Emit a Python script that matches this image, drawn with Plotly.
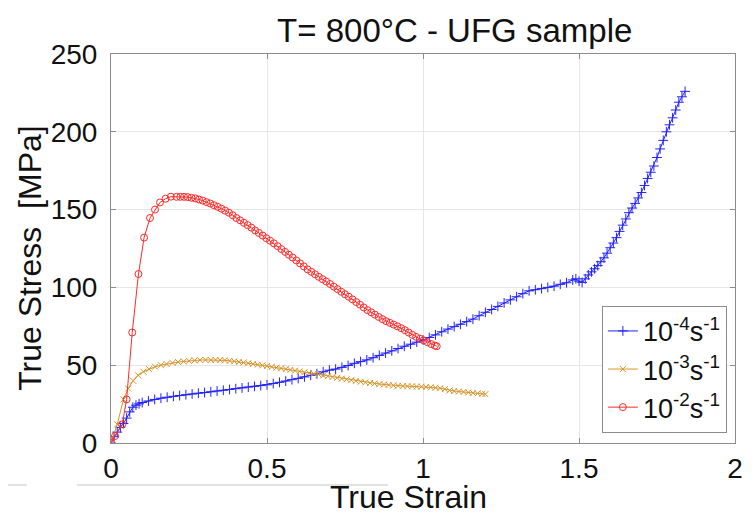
import plotly.graph_objects as go

# ---- data ----
strain_e4 = [0, 0.01, 0.02, 0.03, 0.04, 0.05, 0.06, 0.07, 0.08, 0.09, 0.1, 0.12, 0.14, 0.16, 0.18, 0.2,
             0.22, 0.24, 0.26, 0.28, 0.3, 0.32, 0.34, 0.36, 0.38, 0.4, 0.42, 0.44, 0.46, 0.48, 0.5,
             0.52, 0.54, 0.56, 0.58, 0.6, 0.62, 0.64, 0.66, 0.68, 0.7, 0.72, 0.74, 0.76, 0.78, 0.8,
             0.82, 0.84, 0.86, 0.88, 0.9, 0.92, 0.94, 0.96, 0.98, 1.0, 1.02, 1.04, 1.06, 1.08, 1.1,
             1.12, 1.14, 1.16, 1.18, 1.2, 1.22, 1.24, 1.26, 1.28, 1.3, 1.32, 1.34, 1.36, 1.38, 1.4,
             1.42, 1.44, 1.46, 1.48, 1.49, 1.5, 1.51, 1.52, 1.53, 1.54, 1.55, 1.56, 1.57, 1.58, 1.59,
             1.6, 1.61, 1.62, 1.63, 1.64, 1.65, 1.66, 1.67, 1.68, 1.69, 1.7, 1.71, 1.72, 1.73, 1.74,
             1.75, 1.76, 1.77, 1.78, 1.79, 1.8, 1.81, 1.82, 1.83, 1.84]
stress_e4 = [0, 4, 7, 10, 12.5, 16, 20, 23, 24.3, 25.2, 26, 27, 28, 28.8, 29.4, 30,
             30.5, 31, 31.5, 32, 32.4, 32.9, 33.4, 33.9, 34.4, 34.9, 35.4, 35.9, 36.4, 36.9, 37.4,
             38.2, 39.0, 39.8, 40.7, 41.5, 42.5, 43.5, 44.5, 45.8, 46.8, 47.5, 48.6, 49.8, 51.2, 52.3,
             53.4, 54.8, 56.3, 57.8, 59.2, 60.7, 62.2, 63.5, 64.8, 66.2, 67.8, 69.5, 71.5, 73.2, 74.8,
             76.3, 78.0, 79.6, 81.8, 84.0, 85.8, 87.8, 90.0, 92.0, 94.0, 96.0, 97.8, 98.5, 99.2, 100.0,
             100.8, 102.0, 103.0, 104.8, 105.5, 104.0, 103.2, 105.5, 108.0, 110.0, 112.0, 114.0, 116.5, 119.0, 122.0,
             125.5, 128.5, 132.0, 136.0, 140.0, 144.0, 148.0, 151.0, 154.0, 157.5, 161.0, 165.5, 170.0, 174.0, 178.0,
             183.5, 189.0, 194.5, 200.0, 204.5, 209.0, 214.0, 219.0, 222.5, 226.0]

strain_e3 = [0, 0.02, 0.04, 0.055, 0.071, 0.087, 0.104, 0.122, 0.141, 0.16, 0.178, 0.197, 0.215, 0.233,
             0.25, 0.268, 0.285, 0.303, 0.32, 0.335, 0.35, 0.365, 0.38, 0.395, 0.41, 0.425, 0.44, 0.455,
             0.47, 0.485, 0.5, 0.515, 0.53, 0.545, 0.56, 0.575, 0.59, 0.605, 0.62, 0.635, 0.65, 0.665,
             0.68, 0.695, 0.71, 0.725, 0.74, 0.755, 0.77, 0.785, 0.8, 0.815, 0.83, 0.845, 0.86, 0.875,
             0.89, 0.905, 0.92, 0.935, 0.95, 0.965, 0.98, 0.995, 1.01, 1.025, 1.04, 1.055, 1.07, 1.085,
             1.1, 1.115, 1.13, 1.145, 1.16, 1.175, 1.19, 1.2]
stress_e3 = [0, 12, 28, 35, 40, 43.5, 45.8, 47.5, 49, 50, 50.8, 51.5, 52, 52.4,
             52.8, 53.1, 53.3, 53.4, 53.4, 53.4, 53.3, 53.1, 52.8, 52.5, 52.1, 51.7, 51.3, 50.8,
             50.3, 49.9, 49.5, 48.9, 48.4, 48.0, 47.5, 47.0, 46.5, 46.0, 45.5, 45.0, 44.5, 44.0,
             43.4, 42.9, 42.4, 41.9, 41.4, 40.9, 40.4, 39.9, 39.4, 38.9, 38.5, 38.2, 37.9, 37.6,
             37.3, 37.0, 36.8, 36.6, 36.5, 36.4, 36.3, 36.2, 36.0, 35.8, 35.5, 35.2, 34.6, 33.8,
             33.4, 33.1, 32.8, 32.5, 32.2, 31.9, 31.6, 31.4]

strain_e2 = [0, 0.013, 0.036, 0.05, 0.068, 0.088, 0.106, 0.125, 0.141, 0.157, 0.175, 0.192, 0.21,
             0.222, 0.234, 0.246, 0.258, 0.270, 0.282, 0.294, 0.306, 0.318, 0.330, 0.342, 0.354,
             0.366, 0.378, 0.390, 0.402, 0.414, 0.426, 0.438, 0.450, 0.462, 0.474, 0.486, 0.498,
             0.510, 0.522, 0.534, 0.546, 0.558, 0.570, 0.582, 0.594, 0.606, 0.618, 0.630, 0.642,
             0.654, 0.666, 0.678, 0.690, 0.702, 0.714, 0.726, 0.738, 0.750, 0.762, 0.774, 0.786,
             0.798, 0.810, 0.822, 0.834, 0.846, 0.858, 0.870, 0.882, 0.894, 0.906, 0.918, 0.930,
             0.942, 0.954, 0.966, 0.978, 0.990, 1.002, 1.014, 1.026, 1.038, 1.044]
stress_e2 = [0, 4.5, 12, 28, 71, 108.6, 132, 144.6, 150, 154.6, 157, 158.3, 158.2,
             158.2, 158.2, 158.0, 157.6, 157.2, 156.5, 155.8, 154.8, 153.9, 152.8, 151.8, 150.6,
             149.3, 148.0, 146.4, 144.6, 143.1, 141.5, 140.0, 138.4, 136.6, 135.0, 133.3, 131.6,
             130.0, 128.3, 126.5, 124.6, 122.8, 121.0, 119.2, 117.3, 115.4, 113.5, 111.6, 110.0,
             108.4, 106.8, 105.3, 103.8, 102.2, 100.5, 98.9, 97.2, 95.6, 94.0, 92.3, 90.6,
             88.9, 87.1, 85.4, 84.0, 82.5, 81.0, 79.6, 78.3, 77.2, 76.1, 75.0, 73.8,
             72.5, 71.0, 69.5, 68.2, 67.0, 66.0, 64.8, 63.6, 62.6, 62.2]

x_ticks = [0, 0.5, 1, 1.5, 2]
x_tick_labels = ["0", "0.5", "1", "1.5", "2"]
y_ticks = [0, 50, 100, 150, 200, 250]

FONT = "Liberation Sans, Arial, sans-serif"
BLUE = "#2020ff"
ORANGE = "#d9952b"
RED = "#ff2a2a"

fig = go.Figure()
fig.add_trace(go.Scatter(
    x=strain_e4, y=stress_e4, mode="lines+markers",
    name="10<sup>-4</sup>s<sup>-1</sup>",
    line=dict(color=BLUE, width=1),
    marker=dict(symbol="cross-thin", size=7, line=dict(color=BLUE, width=1), color=BLUE),
))
fig.add_trace(go.Scatter(
    x=strain_e3, y=stress_e3, mode="lines+markers",
    name="10<sup>-3</sup>s<sup>-1</sup>",
    line=dict(color=ORANGE, width=1),
    marker=dict(symbol="x-thin", size=6, line=dict(color=ORANGE, width=1), color=ORANGE),
))
fig.add_trace(go.Scatter(
    x=strain_e2, y=stress_e2, mode="lines+markers",
    name="10<sup>-2</sup>s<sup>-1</sup>",
    line=dict(color=RED, width=1),
    marker=dict(symbol="circle-open", size=7, line=dict(color=RED, width=1), color=RED),
))

axis_common = dict(
    showgrid=True, gridcolor="#e6e6e6", gridwidth=1,
    showline=True, linecolor="#8c8c8c", linewidth=1, mirror="ticks",
    ticks="inside", ticklen=5, tickcolor="#8c8c8c",
    zeroline=False, automargin=False,
    tickfont=dict(family=FONT, size=28, color="#111111"),
)

# page body has an 8px default margin, so the figure is 8px smaller than the window
fig.update_layout(
    width=747, height=507,
    margin=dict(l=103, r=20, t=46, b=72),
    paper_bgcolor="white", plot_bgcolor="white",
    font=dict(family=FONT, color="#111111"),
    title=dict(text="T= 800°C - UFG sample", x=0.598, y=0.9566, xanchor="center", yanchor="middle",
               font=dict(family=FONT, size=33, color="#111111")),
    xaxis=dict(range=[0, 2], tickvals=x_ticks, ticktext=x_tick_labels, **axis_common),
    yaxis=dict(range=[0, 250], tickvals=y_ticks, ticklabelstandoff=7, **axis_common),
    showlegend=True,
    legend=dict(x=0.987, y=0.026, xanchor="right", yanchor="bottom",
                bgcolor="white", bordercolor="#8c8c8c", borderwidth=1,
                font=dict(family=FONT, size=27, color="#111111"),
                tracegroupgap=0, itemwidth=30),
    annotations=[
        dict(text="True Stress  [MPa]", xref="paper", yref="paper", x=-0.13, y=0.4756,
             textangle=-90, showarrow=False, xanchor="center", yanchor="middle",
             font=dict(family=FONT, size=32, color="#111111")),
        dict(text="True Strain", xref="paper", yref="paper", x=0.476, y=-0.139,
             showarrow=False, xanchor="center", yanchor="middle",
             font=dict(family=FONT, size=32, color="#111111")),
    ],
    shapes=[
        dict(type="line", xref="paper", yref="paper", x0=-0.17, x1=-0.135, y0=-0.108, y1=-0.108,
             line=dict(color="#e2e2e2", width=2)),
        dict(type="line", xref="paper", yref="paper", x0=-0.0545, x1=0.444, y0=-0.108, y1=-0.108,
             line=dict(color="#e2e2e2", width=2)),
    ],
)

fig.write_html("out.html")
